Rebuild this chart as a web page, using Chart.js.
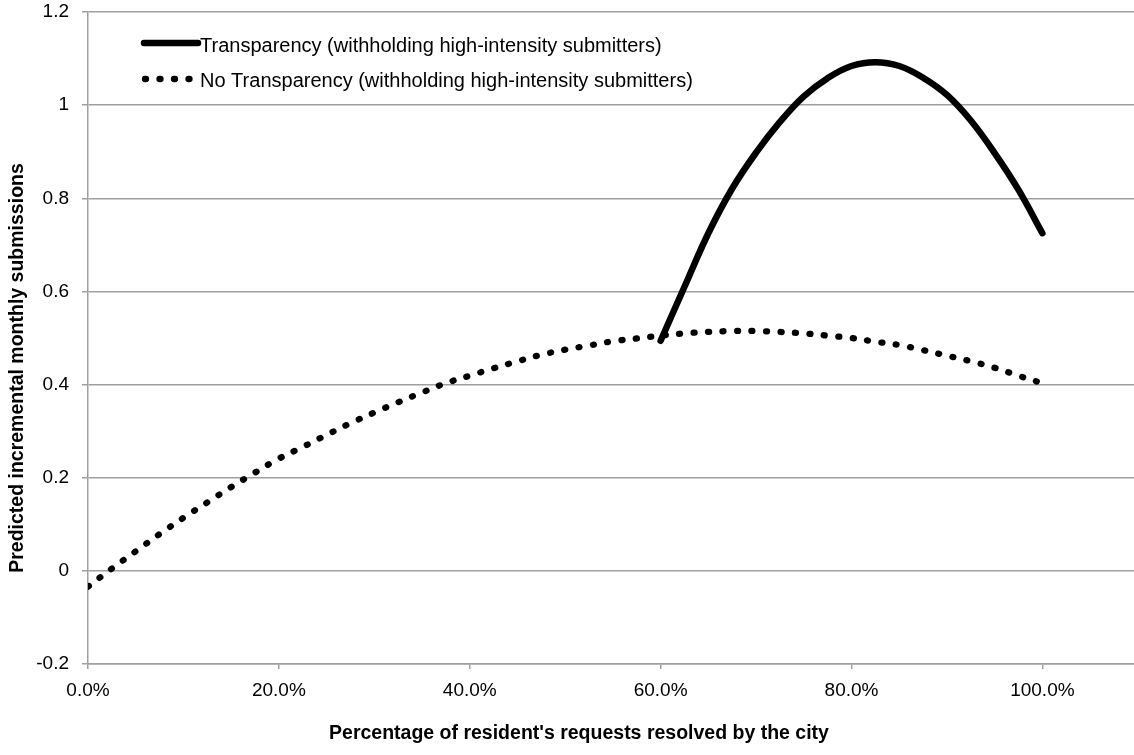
<!DOCTYPE html>
<html>
<head>
<meta charset="utf-8">
<script src="https://cdn.jsdelivr.net/npm/chart.js@4/dist/chart.umd.min.js"></script>
<style>
  html, body { margin: 0; padding: 0; background: #fff; overflow: hidden; }
  #chart_div { display: block; }
</style>
</head>
<body>
<canvas id="chart_div" width="1134" height="755"></canvas>
<script>
"use strict";

// x values (share of requests resolved)
const resolved = [
  0, 0.025, 0.05, 0.075, 0.1, 0.125, 0.15, 0.175, 0.2, 0.225,
  0.25, 0.275, 0.3, 0.325, 0.35, 0.375, 0.4, 0.425, 0.45, 0.475,
  0.5, 0.525, 0.55, 0.575, 0.6, 0.625, 0.65, 0.675, 0.7, 0.725,
  0.75, 0.775, 0.8, 0.825, 0.85, 0.875, 0.9, 0.925, 0.95, 0.975, 1
];

// Transparency (only from 60%)
const transparency = [
  null, null, null, null, null, null, null, null, null, null,
  null, null, null, null, null, null, null, null, null, null,
  null, null, null, null, 0.494, 0.610, 0.725, 0.821, 0.898, 0.964,
  1.019, 1.058, 1.084, 1.092, 1.084, 1.059, 1.022, 0.967, 0.897, 0.818, 0.725
];

// No Transparency
const noTransparency = [
  -0.034, 0.005, 0.042, 0.079, 0.114, 0.147, 0.180, 0.211, 0.241, 0.266,
  0.292, 0.317, 0.340, 0.362, 0.383, 0.403, 0.419, 0.435, 0.450, 0.464,
  0.475, 0.484, 0.493, 0.499, 0.505, 0.510, 0.513, 0.515, 0.515, 0.513,
  0.510, 0.505, 0.500, 0.492, 0.485, 0.474, 0.462, 0.450, 0.436, 0.419, 0.403
];

const seriesNames = [
  "Transparency (withholding high-intensity submitters)",
  "No Transparency (withholding high-intensity submitters)"
];
const xTicks = [0, 0.2, 0.4, 0.6, 0.8, 1.0];
const yTicks = [-0.2, 0, 0.2, 0.4, 0.6, 0.8, 1, 1.2];
const xTitle = "Percentage of resident's requests resolved by the city";
const yTitle = "Predicted incremental monthly submissions";

const gridColor = "#a0a0a0";
const tickFont = { family: "'Liberation Sans', Arial, sans-serif", size: 19 };

function toPoints(ys) {
  return resolved.map(function (x, i) { return { x: x, y: ys[i] }; });
}

// legend + axis titles drawn by hand (legend sits inside the plot)
const extras = {
  id: "extras",
  afterDraw: function (chart) {
    const c = chart.ctx;
    const ds = chart.data.datasets;
    c.save();
    c.fillStyle = "#000";
    c.font = "20px 'Liberation Sans', Arial, sans-serif";
    c.textBaseline = "alphabetic";
    const rows = [
      { lineY: 43, textY: 51.5, x0: 144, x1: 198 },
      { lineY: 79, textY: 87, x0: 145, x1: 192 }
    ];
    rows.forEach(function (r, i) {
      c.beginPath();
      c.strokeStyle = ds[i].borderColor;
      c.lineWidth = ds[i].borderWidth;
      c.lineCap = "round";
      c.setLineDash(ds[i].borderDash || []);
      c.moveTo(r.x0, r.lineY);
      c.lineTo(r.x1, r.lineY);
      c.stroke();
      c.setLineDash([]);
      c.fillText(ds[i].label, 200, r.textY);
    });

    c.font = "bold 19.5px 'Liberation Sans', Arial, sans-serif";
    c.textAlign = "center";
    c.textBaseline = "middle";
    c.fillText(xTitle, 579, 734);
    c.translate(18, 368);
    c.rotate(-Math.PI / 2);
    c.fillText(yTitle, 0, 0);
    c.restore();
  }
};

var ctx = document.getElementById("chart_div");
var chart = new Chart(ctx, {
  type: "line",
  data: {
    datasets: [
      {
        label: seriesNames[0],
        data: toPoints(transparency),
        borderColor: "#000",
        borderWidth: 6.5,
        borderCapStyle: "round",
        tension: 0.4,
        pointRadius: 0,
        fill: false
      },
      {
        label: seriesNames[1],
        data: toPoints(noTransparency),
        borderColor: "#000",
        borderWidth: 6.3,
        borderDash: [1, 13.5],
        borderCapStyle: "round",
        tension: 0.4,
        pointRadius: 0,
        fill: false
      }
    ]
  },
  options: {
    responsive: false,
    animation: false,
    devicePixelRatio: 1,
    layout: { padding: { top: 12, right: 0, left: 0, bottom: 0 } },
    plugins: {
      legend: { display: false },
      tooltip: { enabled: false }
    },
    scales: {
      x: {
        type: "linear",
        min: 0,
        max: 1.096,
        afterBuildTicks: function (s) {
          s.ticks = xTicks.map(function (v) { return { value: v }; });
        },
        afterFit: function (s) {
          s.height = 91;
          s.paddingLeft = 0;
          s.paddingRight = 0;
        },
        ticks: {
          color: "#000",
          font: tickFont,
          padding: 10,
          maxRotation: 0,
          callback: function (v) { return (v * 100).toFixed(1) + "%"; }
        },
        grid: { drawOnChartArea: false, drawTicks: true, tickLength: 5, color: gridColor, lineWidth: 1.5 },
        border: { color: gridColor, width: 1.5 }
      },
      y: {
        type: "linear",
        min: -0.2,
        max: 1.2,
        afterBuildTicks: function (s) {
          s.ticks = yTicks.map(function (v) { return { value: v }; });
        },
        afterFit: function (s) {
          s.width = 88;
          s.paddingTop = 0;
          s.paddingBottom = 0;
        },
        ticks: {
          color: "#000",
          font: tickFont,
          padding: 13,
          callback: function (v) { return String(Math.round(v * 10) / 10); }
        },
        grid: { color: gridColor, lineWidth: 1.5, tickLength: 6 },
        border: { color: gridColor, width: 1.5 }
      }
    }
  },
  plugins: [extras]
});
</script>
</body>
</html>
